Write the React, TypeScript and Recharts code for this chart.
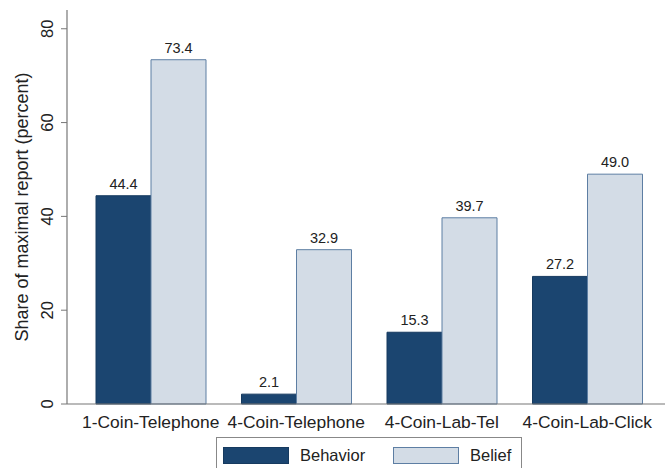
import React from 'react';
import { BarChart, Bar, XAxis, YAxis, LabelList } from 'recharts';

const categories = ['1-Coin-Telephone', '4-Coin-Telephone', '4-Coin-Lab-Tel', '4-Coin-Lab-Click'];
const behavior = [44.4, 2.1, 15.3, 27.2];
const belief = [73.4, 32.9, 39.7, 49.0];
const seriesNames = ['Behavior', 'Belief'];
const yTicks = [0, 20, 40, 60, 80];

const data = categories.map((c, i) => ({ name: c, behavior: behavior[i], belief: belief[i] }));

const FONT = '"Liberation Sans", Arial, sans-serif';
const DARK = '#1b4570';
const DARK_STROKE = '#163a5f';
const LIGHT = '#d3dce6';
const LIGHT_STROKE = '#5d7ea3';

const YTick = (props: any) => {
  const { x, y, payload } = props;
  const cx = x - 6;
  return (
    <text x={cx} y={y} transform={`rotate(-90, ${cx}, ${y})`} textAnchor="middle" fontSize={16.5} fill="#222" fontFamily={FONT}>
      {payload.value}
    </text>
  );
};

const XTick = (props: any) => {
  const { x, y, payload } = props;
  return (
    <text x={x} y={y + 16} textAnchor="middle" fontSize={17.4} fill="#222" fontFamily={FONT}>
      {payload.value}
    </text>
  );
};

const LegendBox = () => (
  <div style={{ position: 'absolute', left: 216, top: 437, width: 306, height: 40, border: '1px solid #888', background: '#fff', boxSizing: 'border-box', fontFamily: FONT, fontSize: 16.5, color: '#222' }}>
    {seriesNames.map((n, i) => (
      <div key={n} style={{ position: 'absolute', left: i === 0 ? 6 : 176, top: 8, display: 'flex', alignItems: 'center' }}>
        <div style={{ width: 64, height: 15, background: i === 0 ? DARK : LIGHT, border: `1px solid ${i === 0 ? DARK_STROKE : LIGHT_STROKE}` }} />
        <span style={{ marginLeft: 11 }}>{n}</span>
      </div>
    ))}
  </div>
);

export default function App() {
  return (
    <div style={{ position: 'absolute', left: 0, top: 0, width: 665, height: 468, background: '#fff', overflow: 'hidden' }}>
      <BarChart width={665} height={468} data={data} margin={{ top: 10, right: 0, bottom: 0, left: 0 }} barCategoryGap={18} barGap={0}>
        <XAxis dataKey="name" height={64} tick={<XTick />} tickLine={false} axisLine={{ stroke: '#777', strokeWidth: 1.2 }} padding={{ left: 11, right: 5 }} interval={0} />
        <YAxis domain={[0, 84]} ticks={yTicks} width={67} tick={<YTick />} tickSize={6} tickLine={{ stroke: '#777' }} axisLine={{ stroke: '#777', strokeWidth: 1.2 }}
          label={{ value: 'Share of maximal report (percent)', angle: -90, position: 'insideLeft', offset: 22, style: { fontSize: 18, fill: '#222', fontFamily: FONT, textAnchor: 'middle' } }} />
        <Bar dataKey="behavior" name={seriesNames[0]} fill={DARK} stroke={DARK_STROKE} strokeWidth={1} isAnimationActive={false}>
          <LabelList dataKey="behavior" position="top" offset={7} formatter={(v: any) => Number(v).toFixed(1)} style={{ fontSize: 14.5, fill: '#222', fontFamily: FONT }} />
        </Bar>
        <Bar dataKey="belief" name={seriesNames[1]} fill={LIGHT} stroke={LIGHT_STROKE} strokeWidth={1} isAnimationActive={false}>
          <LabelList dataKey="belief" position="top" offset={7} formatter={(v: any) => Number(v).toFixed(1)} style={{ fontSize: 14.5, fill: '#222', fontFamily: FONT }} />
        </Bar>
      </BarChart>
      <LegendBox />
    </div>
  );
}
